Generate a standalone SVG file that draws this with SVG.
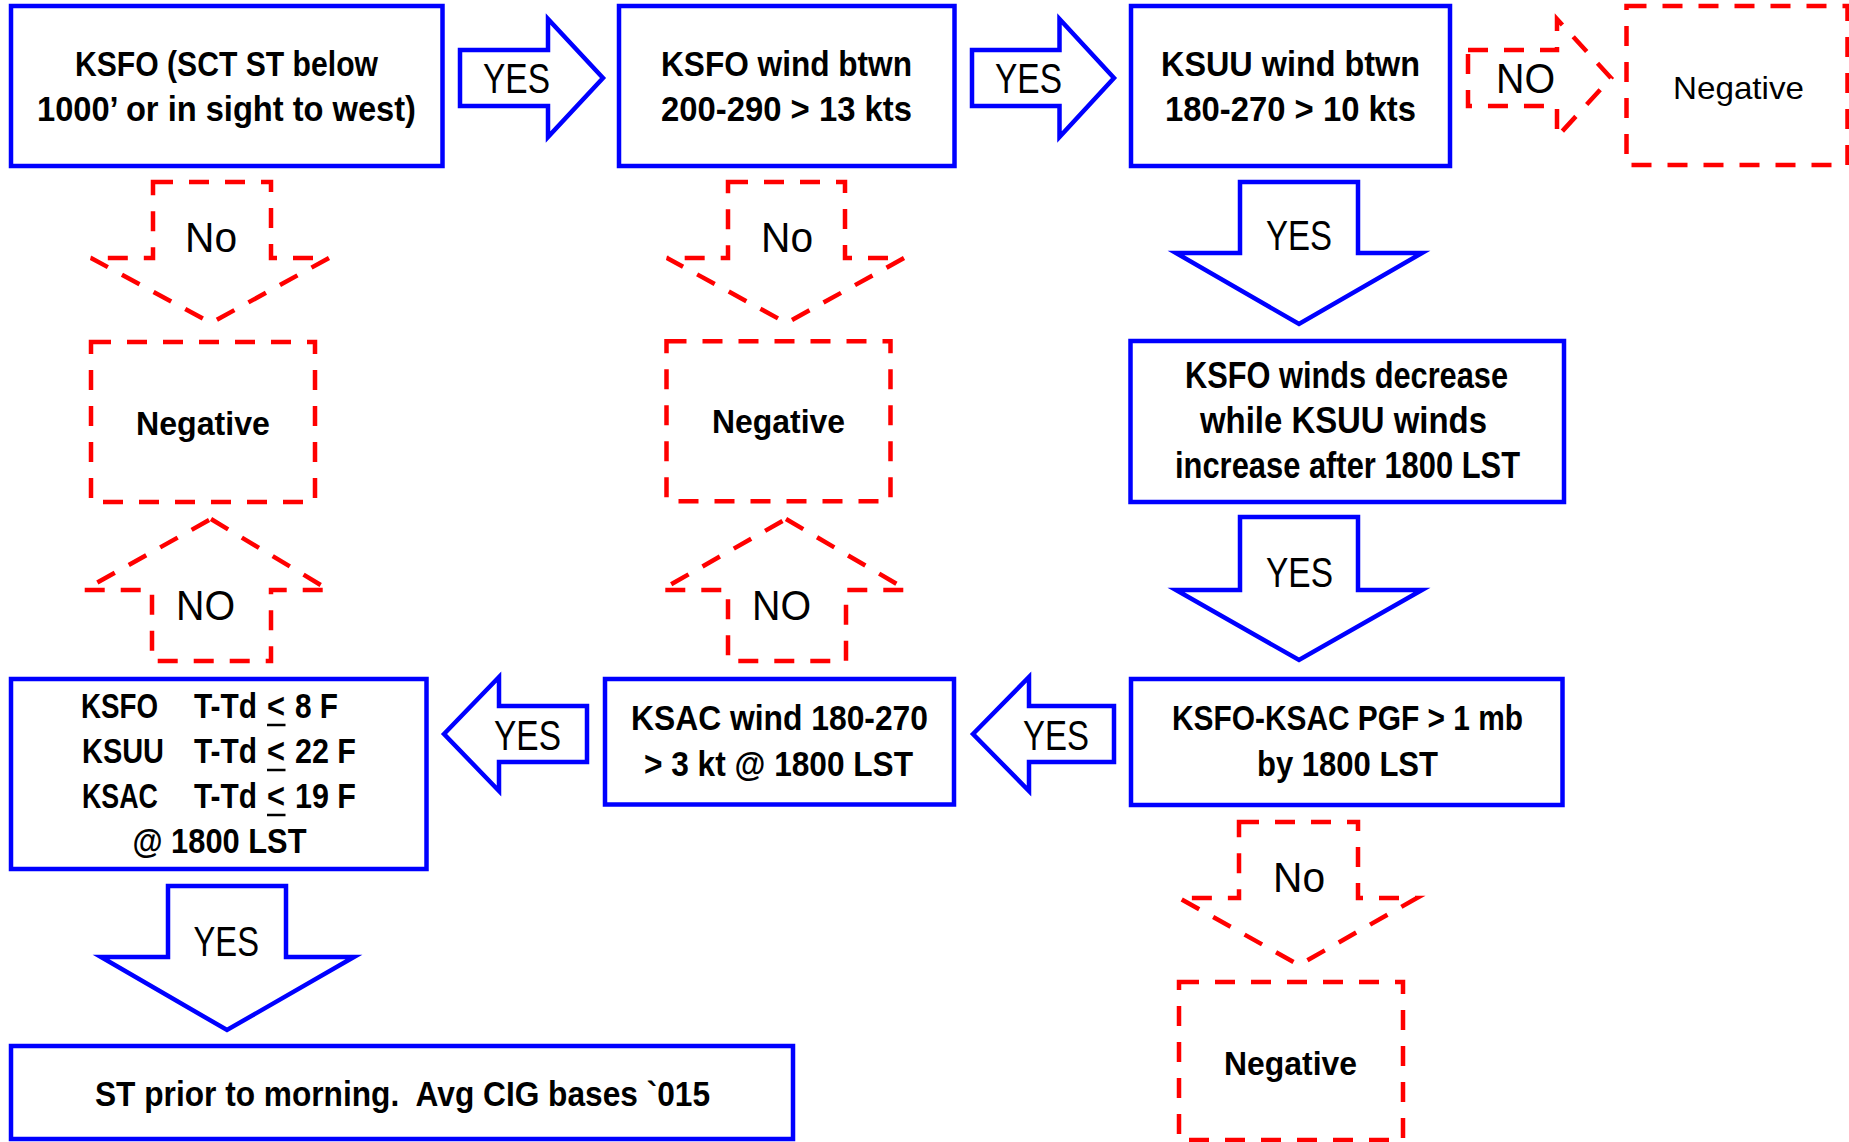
<svg xmlns="http://www.w3.org/2000/svg" width="1849" height="1142" viewBox="0 0 1849 1142">
<style>
.box{fill:#fff;stroke:#0000ff;stroke-width:4.5}
.neg{fill:#fff;stroke:#ff0000;stroke-width:4.5;stroke-dasharray:20 16}
.ya{fill:#fff;stroke:#0000ff;stroke-width:4.5;stroke-linejoin:miter}
.na{fill:#fff;stroke:#ff0000;stroke-width:4.5;stroke-dasharray:20 16;stroke-linejoin:miter}
.t{font-family:"Liberation Sans",Arial,sans-serif;font-weight:bold;font-size:34.5px;fill:#000}
.t4{font-family:"Liberation Sans",Arial,sans-serif;font-weight:bold;font-size:36px;fill:#000}
.nb{font-family:"Liberation Sans",Arial,sans-serif;font-weight:bold;font-size:33px;fill:#000}
.nr{font-family:"Liberation Sans",Arial,sans-serif;font-size:32px;fill:#000}
.l{font-family:"Liberation Sans",Arial,sans-serif;font-size:43px;fill:#000}
.ul{stroke:#000;stroke-width:2.5}
</style>
<rect width="1849" height="1142" fill="#fff"/>

<g id="connectors">
  <g id="c-yes1">
    <polygon class="ya" points="460,50 548,50 548,19 603,78 548,137 548,106 460,106"/>
    <text class="l" x="483" y="93" textLength="67" lengthAdjust="spacingAndGlyphs">YES</text>
  </g>
  <g id="c-yes2">
    <polygon class="ya" points="972,50 1059.5,50 1059.5,19 1114,78 1059.5,137 1059.5,106 972,106"/>
    <text class="l" x="995" y="93" textLength="67" lengthAdjust="spacingAndGlyphs">YES</text>
  </g>
  <g id="c-no3">
    <polygon class="na" points="1468,50 1557,50 1557,19 1611,78 1557,137 1557,106 1468,106"/>
    <text class="l" x="1496" y="93" textLength="59" lengthAdjust="spacingAndGlyphs">NO</text>
  </g>
  <g id="c-no1">
    <polygon class="na" points="153,182 271,182 271,258 329,258 211,323 91,258 153,258"/>
    <text class="l" x="185" y="252" textLength="52" lengthAdjust="spacingAndGlyphs">No</text>
  </g>
  <g id="c-no2">
    <polygon class="na" points="728,182 845,182 845,258 904,258 786.5,323 667,258 728,258"/>
    <text class="l" x="761" y="252" textLength="52" lengthAdjust="spacingAndGlyphs">No</text>
  </g>
  <g id="c-yes3">
    <polygon class="ya" points="1240,182 1358,182 1358,253 1422,253 1299,324 1176,253 1240,253"/>
    <text class="l" x="1266" y="250" textLength="66" lengthAdjust="spacingAndGlyphs">YES</text>
  </g>
  <g id="c-yes4">
    <polygon class="ya" points="1240,517 1358,517 1358,590 1422,590 1299,660 1176,590 1240,590"/>
    <text class="l" x="1266" y="587" textLength="67" lengthAdjust="spacingAndGlyphs">YES</text>
  </g>
  <g id="c-no-up1">
    <polygon class="na" points="211,519 329,590 271,590 271,661 152,661 152,590 84,590"/>
    <text class="l" x="176" y="620" textLength="59" lengthAdjust="spacingAndGlyphs">NO</text>
  </g>
  <g id="c-no-up2">
    <polygon class="na" points="786,519 907,590 846,590 846,661 728,661 728,590 661,590"/>
    <text class="l" x="752" y="620" textLength="59" lengthAdjust="spacingAndGlyphs">NO</text>
  </g>
  <g id="c-yes5">
    <polygon class="ya" points="444,734 499,677 499,706 587,706 587,762 499,762 499,791"/>
    <text class="l" x="494" y="750" textLength="67" lengthAdjust="spacingAndGlyphs">YES</text>
  </g>
  <g id="c-yes6">
    <polygon class="ya" points="973,734 1029,677 1029,706 1114,706 1114,762 1029,762 1029,791"/>
    <text class="l" x="1023" y="750" textLength="66" lengthAdjust="spacingAndGlyphs">YES</text>
  </g>
  <g id="c-no4">
    <polygon class="na" points="1239,822 1358,822 1358,898 1417,898 1299,965 1179,898 1239,898"/>
    <text class="l" x="1273" y="892" textLength="52" lengthAdjust="spacingAndGlyphs">No</text>
  </g>
  <g id="c-yes7">
    <polygon class="ya" points="168,886 286,886 286,957 354,957 227,1030 101,957 168,957"/>
    <text class="l" x="193.5" y="956" textLength="65.5" lengthAdjust="spacingAndGlyphs">YES</text>
  </g>
</g>

<g id="n-ksfo-sct">
  <rect class="box" x="11" y="6" width="431.5" height="160"/>
  <text class="t" x="75" y="76" textLength="303" lengthAdjust="spacingAndGlyphs">KSFO (SCT ST below</text>
  <text class="t" x="37" y="121" textLength="379" lengthAdjust="spacingAndGlyphs">1000’ or in sight to west)</text>
</g>
<g id="n-ksfo-wind">
  <rect class="box" x="619" y="6" width="335.5" height="160"/>
  <text class="t" x="661" y="76" textLength="251" lengthAdjust="spacingAndGlyphs">KSFO wind btwn</text>
  <text class="t" x="661" y="121" textLength="251" lengthAdjust="spacingAndGlyphs">200-290 &gt; 13 kts</text>
</g>
<g id="n-ksuu-wind">
  <rect class="box" x="1131" y="6" width="319" height="160"/>
  <text class="t" x="1161" y="76" textLength="259" lengthAdjust="spacingAndGlyphs">KSUU wind btwn</text>
  <text class="t" x="1165" y="121" textLength="251" lengthAdjust="spacingAndGlyphs">180-270 &gt; 10 kts</text>
</g>
<g id="n-negative-tr">
  <rect class="neg" x="1626.5" y="6" width="221" height="159"/>
  <text class="nr" x="1673" y="99" textLength="131" lengthAdjust="spacingAndGlyphs">Negative</text>
</g>
<g id="n-negative-1">
  <rect class="neg" x="91" y="342" width="224" height="160"/>
  <text class="nb" x="136" y="435" textLength="134" lengthAdjust="spacingAndGlyphs">Negative</text>
</g>
<g id="n-negative-2">
  <rect class="neg" x="666.5" y="341.3" width="224" height="160"/>
  <text class="nb" x="712" y="433" textLength="133" lengthAdjust="spacingAndGlyphs">Negative</text>
</g>
<g id="n-winds-decrease">
  <rect class="box" x="1130.5" y="341" width="433.5" height="161"/>
  <text class="t4" x="1185" y="388" textLength="323" lengthAdjust="spacingAndGlyphs">KSFO winds decrease</text>
  <text class="t4" x="1200" y="433" textLength="287" lengthAdjust="spacingAndGlyphs">while KSUU winds</text>
  <text class="t4" x="1175" y="478" textLength="345" lengthAdjust="spacingAndGlyphs">increase after 1800 LST</text>
</g>
<g id="n-ttd">
  <rect class="box" x="11" y="679" width="415.5" height="190"/>
  <text class="t" x="81" y="718" textLength="77" lengthAdjust="spacingAndGlyphs">KSFO</text>
  <text class="t" x="194" y="718" textLength="63" lengthAdjust="spacingAndGlyphs">T-Td</text>
  <text class="t" x="267" y="718" textLength="18" lengthAdjust="spacingAndGlyphs">&lt;</text>
  <text class="t" x="295" y="718" textLength="43" lengthAdjust="spacingAndGlyphs">8 F</text>
  <text class="t" x="82" y="763" textLength="82" lengthAdjust="spacingAndGlyphs">KSUU</text>
  <text class="t" x="194" y="763" textLength="63" lengthAdjust="spacingAndGlyphs">T-Td</text>
  <text class="t" x="267" y="763" textLength="18" lengthAdjust="spacingAndGlyphs">&lt;</text>
  <text class="t" x="295" y="763" textLength="61" lengthAdjust="spacingAndGlyphs">22 F</text>
  <text class="t" x="82" y="808" textLength="76" lengthAdjust="spacingAndGlyphs">KSAC</text>
  <text class="t" x="194" y="808" textLength="63" lengthAdjust="spacingAndGlyphs">T-Td</text>
  <text class="t" x="267" y="808" textLength="18" lengthAdjust="spacingAndGlyphs">&lt;</text>
  <text class="t" x="295" y="808" textLength="61" lengthAdjust="spacingAndGlyphs">19 F</text>
  <text class="t" x="132.5" y="853" textLength="174" lengthAdjust="spacingAndGlyphs">@ 1800 LST</text>
  <line class="ul" x1="267" y1="725" x2="285.5" y2="725"/>
  <line class="ul" x1="267" y1="770" x2="285.5" y2="770"/>
  <line class="ul" x1="267" y1="815" x2="285.5" y2="815"/>
</g>
<g id="n-ksac-wind">
  <rect class="box" x="605" y="679" width="349" height="125.5"/>
  <text class="t" x="631" y="730" textLength="297" lengthAdjust="spacingAndGlyphs">KSAC wind 180-270</text>
  <text class="t" x="644" y="776" textLength="269" lengthAdjust="spacingAndGlyphs">&gt; 3 kt @ 1800 LST</text>
</g>
<g id="n-pgf">
  <rect class="box" x="1131" y="679" width="431.5" height="126"/>
  <text class="t" x="1172" y="730" textLength="351" lengthAdjust="spacingAndGlyphs">KSFO-KSAC PGF &gt; 1 mb</text>
  <text class="t" x="1257" y="776" textLength="181" lengthAdjust="spacingAndGlyphs">by 1800 LST</text>
</g>
<g id="n-negative-3">
  <rect class="neg" x="1179" y="982" width="224" height="158"/>
  <text class="nb" x="1224" y="1075" textLength="133" lengthAdjust="spacingAndGlyphs">Negative</text>
</g>
<g id="n-st-prior">
  <rect class="box" x="11" y="1046" width="782" height="93"/>
  <text class="t" x="95" y="1106" textLength="615" lengthAdjust="spacingAndGlyphs" xml:space="preserve">ST prior to morning.  Avg CIG bases `015</text>
</g>
</svg>
